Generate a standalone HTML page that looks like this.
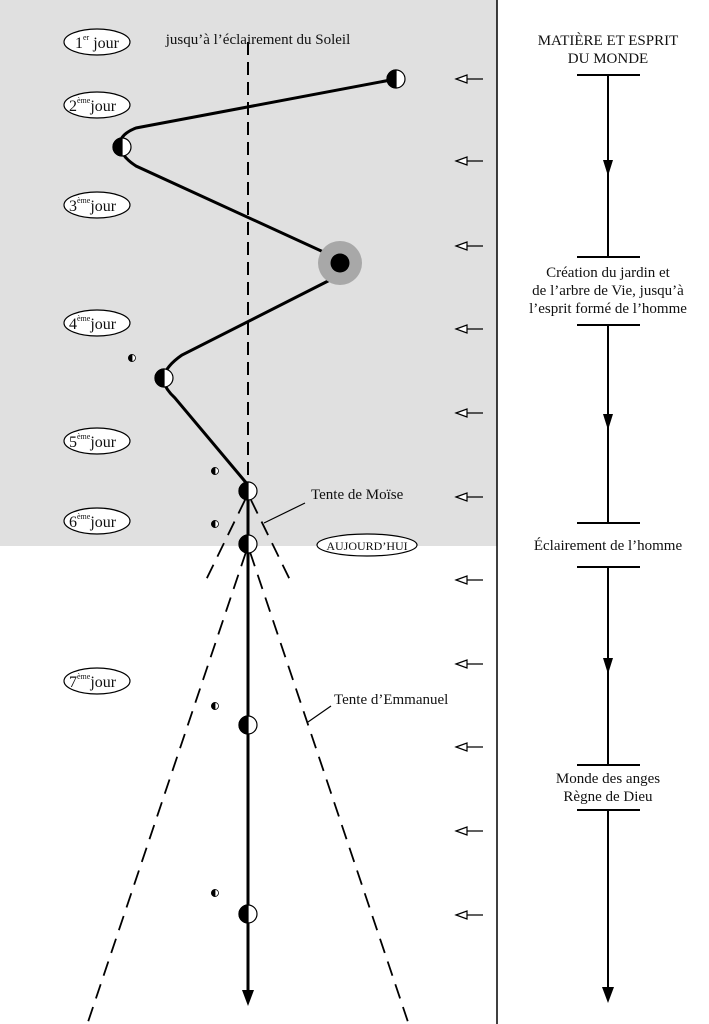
<!DOCTYPE html>
<html><head><meta charset="utf-8"><style>
html,body{margin:0;padding:0;background:#fff}
svg{display:block}
text{font-family:"Liberation Serif",serif;fill:#111}
</style></head><body>
<svg width="709" height="1024" viewBox="0 0 709 1024" xmlns="http://www.w3.org/2000/svg">
<defs>
<marker id="ah" markerWidth="10" markerHeight="14" refX="5" refY="14" orient="auto" markerUnits="userSpaceOnUse">
</marker>
</defs>
<rect x="0" y="0" width="497" height="546" fill="#e0e0e0"/>
<line x1="497" y1="0" x2="497" y2="1024" stroke="#000" stroke-width="1.5"/>

<!-- dashed vertical -->
<line x1="248" y1="42" x2="248" y2="490" stroke="#000" stroke-width="2" stroke-dasharray="13,7"/>
<!-- cones -->
<g stroke="#000" stroke-width="1.8" stroke-dasharray="15,9" fill="none">
<line x1="245" y1="500" x2="206" y2="580"/>
<line x1="251" y1="500" x2="290" y2="580"/>
<line x1="246" y1="552" x2="88" y2="1022"/>
<line x1="250" y1="552" x2="408" y2="1022"/>
</g>
<!-- solid main line -->
<line x1="248" y1="491" x2="248" y2="992" stroke="#000" stroke-width="3"/>
<polygon points="242,990 254,990 248,1006" fill="#000"/>
<polygon points="244,494 252,494 248,486" fill="#000"/>

<!-- zigzag -->
<path d="M396,79 L136,128 Q118,135 120,147 Q122,157 136,166 L330,255" fill="none" stroke="#000" stroke-width="3"/>
<path d="M330,280 L182,355 Q166,366 163,378 Q164,388 175,398 L248,485" fill="none" stroke="#000" stroke-width="3"/>

<!-- big sun -->
<circle cx="340" cy="263" r="22" fill="#a8a8a8"/>
<circle cx="340" cy="263" r="9.5" fill="#000"/>

<!-- half circles -->
<g stroke="#000" stroke-width="1.2">
<g transform="translate(396,79)"><circle r="9" fill="#fff"/><path d="M0,-9 A9,9 0 0 0 0,9 Z" fill="#000"/></g>
<g transform="translate(122,147)"><circle r="9" fill="#fff"/><path d="M0,-9 A9,9 0 0 0 0,9 Z" fill="#000"/></g>
<g transform="translate(164,378)"><circle r="9" fill="#fff"/><path d="M0,-9 A9,9 0 0 0 0,9 Z" fill="#000"/></g>
<g transform="translate(248,491)"><circle r="9" fill="#fff"/><path d="M0,-9 A9,9 0 0 0 0,9 Z" fill="#000"/></g>
<g transform="translate(248,544)"><circle r="9" fill="#fff"/><path d="M0,-9 A9,9 0 0 0 0,9 Z" fill="#000"/></g>
<g transform="translate(248,725)"><circle r="9" fill="#fff"/><path d="M0,-9 A9,9 0 0 0 0,9 Z" fill="#000"/></g>
<g transform="translate(248,914)"><circle r="9" fill="#fff"/><path d="M0,-9 A9,9 0 0 0 0,9 Z" fill="#000"/></g>
</g>
<g stroke="#000" stroke-width="0.8">
<g transform="translate(132,358)"><circle r="3.5" fill="#fff"/><path d="M0,-3.5 A3.5,3.5 0 0 0 0,3.5 Z" fill="#000"/></g>
<g transform="translate(215,471)"><circle r="3.5" fill="#fff"/><path d="M0,-3.5 A3.5,3.5 0 0 0 0,3.5 Z" fill="#000"/></g>
<g transform="translate(215,524)"><circle r="3.5" fill="#fff"/><path d="M0,-3.5 A3.5,3.5 0 0 0 0,3.5 Z" fill="#000"/></g>
<g transform="translate(215,706)"><circle r="3.5" fill="#fff"/><path d="M0,-3.5 A3.5,3.5 0 0 0 0,3.5 Z" fill="#000"/></g>
<g transform="translate(215,893)"><circle r="3.5" fill="#fff"/><path d="M0,-3.5 A3.5,3.5 0 0 0 0,3.5 Z" fill="#000"/></g>
</g>

<!-- day ellipses -->
<g stroke="#000" stroke-width="1.2" fill="#fff">
<ellipse cx="97" cy="42" rx="33" ry="13"/>
<ellipse cx="97" cy="105" rx="33" ry="13"/>
<ellipse cx="97" cy="205" rx="33" ry="13"/>
<ellipse cx="97" cy="323" rx="33" ry="13"/>
<ellipse cx="97" cy="441" rx="33" ry="13"/>
<ellipse cx="97" cy="521" rx="33" ry="13"/>
<ellipse cx="97" cy="681" rx="33" ry="13"/>
<ellipse cx="367" cy="545" rx="50" ry="11"/>
</g>
<g font-size="16">
<text x="75" y="48">1<tspan font-size="8" dy="-8">er</tspan><tspan dy="8"> jour</tspan></text>
<text x="69" y="111">2<tspan font-size="8" dy="-8">ème</tspan><tspan dy="8">jour</tspan></text>
<text x="69" y="211">3<tspan font-size="8" dy="-8">ème</tspan><tspan dy="8">jour</tspan></text>
<text x="69" y="329">4<tspan font-size="8" dy="-8">ème</tspan><tspan dy="8">jour</tspan></text>
<text x="69" y="447">5<tspan font-size="8" dy="-8">ème</tspan><tspan dy="8">jour</tspan></text>
<text x="69" y="527">6<tspan font-size="8" dy="-8">ème</tspan><tspan dy="8">jour</tspan></text>
<text x="69" y="687">7<tspan font-size="8" dy="-8">ème</tspan><tspan dy="8">jour</tspan></text>
</g>
<text x="367" y="550" font-size="12" text-anchor="middle">AUJOURD’HUI</text>
<text x="258" y="44" font-size="15" text-anchor="middle">jusqu’à l’éclairement du Soleil</text>
<text x="311" y="499" font-size="15">Tente de Moïse</text>
<line x1="305" y1="503" x2="264" y2="523" stroke="#000" stroke-width="1.2"/>
<text x="334" y="704" font-size="15">Tente d’Emmanuel</text>
<line x1="331" y1="706" x2="308" y2="722" stroke="#000" stroke-width="1.2"/>

<!-- small arrows -->
<g stroke="#000" stroke-width="1.2" fill="#fff">
<g transform="translate(0,79)"><line x1="466" y1="0" x2="483" y2="0"/><polygon points="456,0 467,-4 467,4"/></g>
<g transform="translate(0,161)"><line x1="466" y1="0" x2="483" y2="0"/><polygon points="456,0 467,-4 467,4"/></g>
<g transform="translate(0,246)"><line x1="466" y1="0" x2="483" y2="0"/><polygon points="456,0 467,-4 467,4"/></g>
<g transform="translate(0,329)"><line x1="466" y1="0" x2="483" y2="0"/><polygon points="456,0 467,-4 467,4"/></g>
<g transform="translate(0,413)"><line x1="466" y1="0" x2="483" y2="0"/><polygon points="456,0 467,-4 467,4"/></g>
<g transform="translate(0,497)"><line x1="466" y1="0" x2="483" y2="0"/><polygon points="456,0 467,-4 467,4"/></g>
<g transform="translate(0,580)"><line x1="466" y1="0" x2="483" y2="0"/><polygon points="456,0 467,-4 467,4"/></g>
<g transform="translate(0,664)"><line x1="466" y1="0" x2="483" y2="0"/><polygon points="456,0 467,-4 467,4"/></g>
<g transform="translate(0,747)"><line x1="466" y1="0" x2="483" y2="0"/><polygon points="456,0 467,-4 467,4"/></g>
<g transform="translate(0,831)"><line x1="466" y1="0" x2="483" y2="0"/><polygon points="456,0 467,-4 467,4"/></g>
<g transform="translate(0,915)"><line x1="466" y1="0" x2="483" y2="0"/><polygon points="456,0 467,-4 467,4"/></g>
</g>

<!-- right column -->
<g stroke="#000" stroke-width="2">
<line x1="577" y1="75" x2="640" y2="75"/>
<line x1="577" y1="257" x2="640" y2="257"/>
<line x1="577" y1="325" x2="640" y2="325"/>
<line x1="577" y1="523" x2="640" y2="523"/>
<line x1="577" y1="567" x2="640" y2="567"/>
<line x1="577" y1="765" x2="640" y2="765"/>
<line x1="577" y1="810" x2="640" y2="810"/>
<line x1="608" y1="75" x2="608" y2="257"/>
<line x1="608" y1="325" x2="608" y2="523"/>
<line x1="608" y1="567" x2="608" y2="765"/>
<line x1="608" y1="810" x2="608" y2="990"/>
</g>
<g fill="#000">
<polygon points="603,160 613,160 608,176"/>
<polygon points="603,414 613,414 608,430"/>
<polygon points="603,658 613,658 608,674"/>
<polygon points="602,987 614,987 608,1003"/>
</g>
<g font-size="15" text-anchor="middle">
<text x="608" y="45">MATIÈRE ET ESPRIT</text>
<text x="608" y="63">DU MONDE</text>
<text x="608" y="277">Création du jardin et</text>
<text x="608" y="295">de l’arbre de Vie, jusqu’à</text>
<text x="608" y="313">l’esprit formé de l’homme</text>
<text x="608" y="550">Éclairement de l’homme</text>
<text x="608" y="783">Monde des anges</text>
<text x="608" y="801">Règne de Dieu</text>
</g>
</svg>
</body></html>
